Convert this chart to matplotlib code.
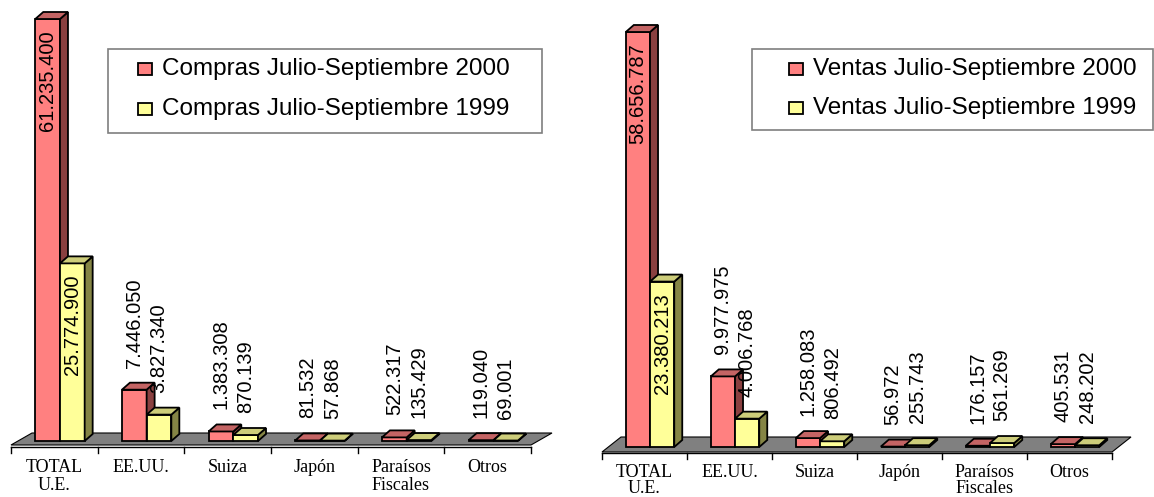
import matplotlib.pyplot as plt
from matplotlib.patches import Polygon, Rectangle

# Datos (miles)
categorias = ["TOTAL\nU.E.", "EE.UU.", "Suiza", "Japón", "Paraísos\nFiscales", "Otros"]
compras_2000 = [61235400, 7446050, 1383308, 81532, 522317, 119040]
compras_1999 = [25774900, 3827340, 870139, 57868, 135429, 69001]
ventas_2000 = [58656787, 9977975, 1258083, 56972, 176157, 405531]
ventas_1999 = [23380213, 4006768, 806492, 255743, 561269, 248202]

ley_compras = ["Compras Julio-Septiembre 2000", "Compras Julio-Septiembre 1999"]
ley_ventas = ["Ventas Julio-Septiembre 2000", "Ventas Julio-Septiembre 1999"]

# colores: frente, lado, tapa
ROJO = ("#FF8080", "#8A4040", "#C46464")
AMARILLO = ("#FFFF99", "#858545", "#CDCD7A")

W, H = 1154, 497
fig = plt.figure(figsize=(W / 100, H / 100), dpi=100)

SANS = "Liberation Sans"
SERIF = "Liberation Serif"


def fmt(v):
    return f"{v:,}".replace(",", ".")


def panel(x0, x1, base, top, top_bar, serie_a, serie_b, floor_front, floor_back, floor_shift,
          cat_gap, cat_ls):
    ax = fig.add_axes([x0 / W, (H - base) / H, (x1 - x0) / W, (base - top) / H])
    ymax = max(serie_a) * (base - top) / (base - top_bar)
    ax.set_xlim(0, len(categorias))
    ax.set_ylim(0, ymax)
    ax.set_axis_off()
    ux = len(categorias) / (x1 - x0)
    uy = ymax / (base - top)
    dx, dy = 8 * ux, 7 * uy
    n = len(categorias)

    # suelo gris
    suelo = Polygon([(0, -floor_front * uy), (n, -floor_front * uy),
                     (n + floor_shift * ux, floor_back * uy), (floor_shift * ux, floor_back * uy)],
                    closed=True, facecolor="#808080", edgecolor="black", lw=0.8, clip_on=False, zorder=1)
    ax.add_patch(suelo)

    # eje con marcas
    y_eje = -6 * uy
    ax.plot([0, n], [y_eje, y_eje], color="black", lw=1, clip_on=False, zorder=1)
    for i in range(n + 1):
        ax.plot([i, i], [y_eje, y_eje - 6 * uy], color="black", lw=1, clip_on=False, zorder=1)

    ancho = 0.285
    for i in range(n):
        for k, (serie, col) in enumerate([(serie_a, ROJO), (serie_b, AMARILLO)]):
            h = serie[i]
            xl = i + 0.28 + k * ancho
            xr = xl + ancho
            z = 2 + k
            ax.bar(xl, h, width=ancho, align="edge", color=col[0], edgecolor="black",
                   lw=1.3, clip_on=False, zorder=z)
            ax.add_patch(Polygon([(xr, 0), (xr + dx, dy), (xr + dx, h + dy), (xr, h)], closed=True,
                                 facecolor=col[1], edgecolor="black", lw=1.3, clip_on=False, zorder=z))
            ax.add_patch(Polygon([(xl, h), (xl + dx, h + dy), (xr + dx, h + dy), (xr, h)], closed=True,
                                 facecolor=col[2], edgecolor="black", lw=1.3, clip_on=False, zorder=z))
            xc = (xl + xr) / 2
            if h > 0.3 * max(serie_a):
                ax.text(xc, h - 112 * uy, fmt(h), rotation=90, ha="center", va="bottom",
                        fontsize=14.5, family=SANS, zorder=10, clip_on=False)
            else:
                ax.text(xc, h + 22 * uy, fmt(h), rotation=90, ha="center", va="bottom",
                        fontsize=14.5, family=SANS, zorder=10, clip_on=False)

    for i, c in enumerate(categorias):
        ax.text(i + 0.5, -cat_gap * uy, c, ha="center", va="top", fontsize=13,
                family=SERIF, linespacing=cat_ls, clip_on=False)
    return ax


def leyenda(bx0, bx1, by0, by1, mx, tx, filas, textos):
    fig.add_artist(Rectangle((bx0 / W, 1 - by1 / H), (bx1 - bx0) / W, (by1 - by0) / H,
                             transform=fig.transFigure, facecolor="white", edgecolor="#7f7f7f", lw=1.2))
    for yc, txt, col in zip(filas, textos, [ROJO[0], AMARILLO[0]]):
        fig.add_artist(Rectangle((mx / W, 1 - (yc + 6) / H), 14 / W, 12 / H, transform=fig.transFigure,
                                 facecolor=col, edgecolor="black", lw=1.3))
        fig.text(tx / W, 1 - yc / H, txt, ha="left", va="center", fontsize=17.5, family=SANS)


panel(11, 531, 441, 5, 19, compras_2000, compras_1999, 4, 8, 21, 18, 1.05)
panel(602, 1112, 447, 5, 32, ventas_2000, ventas_1999, 5, 10, 19, 17, 0.92)

leyenda(108, 542, 49, 133, 138, 162, [69, 109], ley_compras)
leyenda(752, 1153, 49, 130, 789, 813, [69, 108], ley_ventas)

fig.savefig("out.png", dpi=100)
